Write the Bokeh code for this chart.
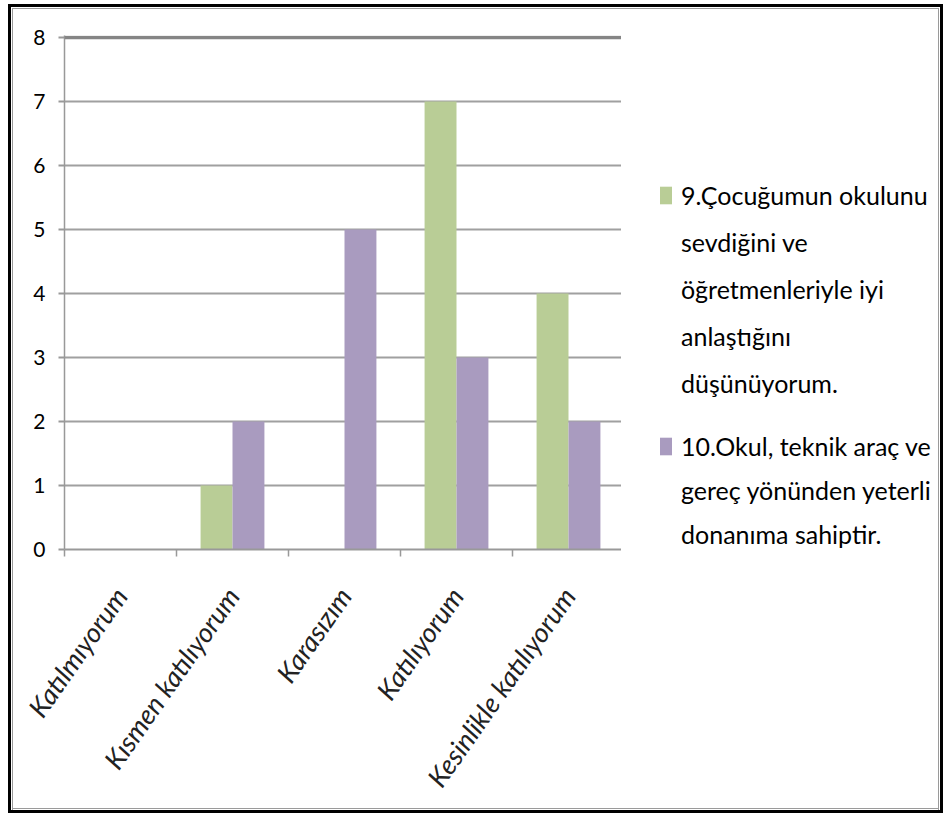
import math
from bokeh.plotting import figure
from bokeh.layouts import row
from bokeh.models import (ColumnDataSource, Range1d, FixedTicker, Legend, LegendItem,
                          Span, CustomJSTickFormatter)
from bokeh.transform import dodge
from bokeh.embed import file_html
from bokeh.resources import INLINE

# ---- data ----
categories = ["Katılmıyorum", "Kısmen katılıyorum", "Karasızım", "Katılıyorum",
              "Kesinlikle katılıyorum"]
series9_values = [0, 1, 0, 7, 4]
series10_values = [0, 2, 5, 3, 2]
series9_lines = ["9.Çocuğumun okulunu", "sevdiğini ve", "öğretmenleriyle iyi",
                 "anlaştığını", "düşünüyorum."]
series10_lines = ["10.Okul, teknik araç ve", "gereç yönünden yeterli",
                  "donanıma sahiptir."]
y_tick_values = [0, 1, 2, 3, 4, 5, 6, 7, 8]

# ---- styles ----
GREEN = "#B9CD96"
PURPLE = "#A99BBF"
GRID = "#A0A0A0"
FONT = "Lato"
BAR_W = 0.285
H = 809
W_CHART = 613
W_LEG = 322
B_LEFT, B_TOP, B_BOTTOM = 53, 28, 267

n = len(categories)
centers = [i + 0.5 for i in range(n)]
source = ColumnDataSource(data=dict(x=centers, cat=categories,
                                    s9=series9_values, s10=series10_values))

# ================= chart =================
p = figure(width=W_CHART, height=H, output_backend="svg", toolbar_location=None,
           x_range=Range1d(0, n), y_range=Range1d(0, 8.03125),
           min_border_left=B_LEFT, min_border_right=0, min_border_top=B_TOP,
           min_border_bottom=B_BOTTOM)
p.styles = {"border": "3px solid black", "border-right": "none",
            "box-shadow": ("inset 1px 1px 0 0 #ffffff, inset 2px 2px 0 0 #9a9a9a, "
                           "inset 0 -1px 0 0 #ffffff, inset 0 -2px 0 0 #9a9a9a")}
p.border_fill_alpha = 0
p.background_fill_color = "white"
p.outline_line_color = None

p.xgrid.visible = False
p.ygrid.ticker = FixedTicker(ticks=y_tick_values)
p.ygrid.grid_line_color = GRID
p.ygrid.grid_line_width = 2
p.add_layout(Span(location=y_tick_values[-1], dimension="width",
                  line_color="#858585", line_width=3.5))

r9 = p.vbar(x=dodge("x", -BAR_W / 2), top="s9", width=BAR_W, source=source,
            fill_color=GREEN, line_color=None)
r10 = p.vbar(x=dodge("x", BAR_W / 2), top="s10", width=BAR_W, source=source,
             fill_color=PURPLE, line_color=None)

ya = p.yaxis[0]
ya.ticker = FixedTicker(ticks=y_tick_values)
ya.major_tick_out = 6
ya.major_tick_in = 0
ya.minor_tick_out = 0
ya.minor_tick_in = 0
ya.axis_line_color = "#999999"
ya.axis_line_width = 1.5
ya.major_tick_line_color = "#999999"
ya.major_tick_line_width = 2
ya.major_label_text_font = FONT
ya.major_label_text_font_size = "21px"
ya.major_label_text_color = "black"
ya.major_label_standoff = 13

xa = p.xaxis[0]
xa.ticker = FixedTicker(ticks=centers, minor_ticks=list(range(n + 1)))
xa.formatter = CustomJSTickFormatter(args=dict(labels=categories),
                                     code="return labels[Math.floor(tick)];")
xa.major_tick_out = 0
xa.major_tick_in = 0
xa.minor_tick_out = 7
xa.minor_tick_in = 0
xa.minor_tick_line_color = "#999999"
xa.minor_tick_line_width = 1.5
xa.axis_line_color = "#999999"
xa.axis_line_width = 2
xa.major_label_orientation = math.radians(55)
xa.major_label_text_font = FONT
xa.major_label_text_font_style = "italic"
xa.major_label_text_font_size = "27px"
xa.major_label_text_color = "#222222"
xa.major_label_standoff = 34

# ================= legend panel =================
# same borders as the chart so that its frame spans the same height
leg = figure(width=W_LEG, height=H, output_backend="svg", toolbar_location=None,
             x_range=Range1d(-20, -19), y_range=Range1d(0, 1),
             x_axis_type=None, y_axis_type=None,
             min_border_left=0, min_border_right=0, min_border_top=B_TOP,
             min_border_bottom=B_BOTTOM)
leg.styles = {"border": "3px solid black", "border-left": "none",
              "box-shadow": ("inset -1px 1px 0 0 #ffffff, inset -2px 2px 0 0 #9a9a9a, "
                             "inset 0 -1px 0 0 #ffffff, inset 0 -2px 0 0 #9a9a9a")}
leg.border_fill_alpha = 0
leg.background_fill_alpha = 0
leg.outline_line_color = None
leg.grid.visible = False

# the legend's own copies of the two series (kept outside the visible range)
k9 = leg.vbar(x="x", top="s9", width=BAR_W, source=source,
              fill_color=GREEN, line_color=None)
k10 = leg.vbar(x="x", top="s10", width=BAR_W, source=source,
               fill_color=PURPLE, line_color=None)
k_blank = leg.vbar(x=[], top=[], width=1, fill_alpha=0, line_alpha=0)


def make_legend(lines, renderer, location, pitch):
    items = [LegendItem(label=t, renderers=[renderer if i == 0 else k_blank])
             for i, t in enumerate(lines)]
    lg = Legend(items=items, location=location)
    lg.border_line_alpha = 0
    lg.background_fill_alpha = 0
    lg.padding = 0
    lg.margin = 0
    lg.spacing = 0
    lg.label_height = pitch
    lg.label_standoff = 8
    lg.glyph_width = 15
    lg.glyph_height = 22
    lg.label_text_font = FONT
    lg.label_text_font_size = "25px"
    lg.label_text_color = "black"
    return lg


leg.add_layout(make_legend(series9_lines, k9, (37, 143), 47))
leg.add_layout(make_legend(series10_lines, k10, (37, -7), 44))

layout = row(p, leg)
layout.styles = {"margin-left": "8px", "margin-top": "4px"}

open("out.html", "w").write(file_html(layout, INLINE))
